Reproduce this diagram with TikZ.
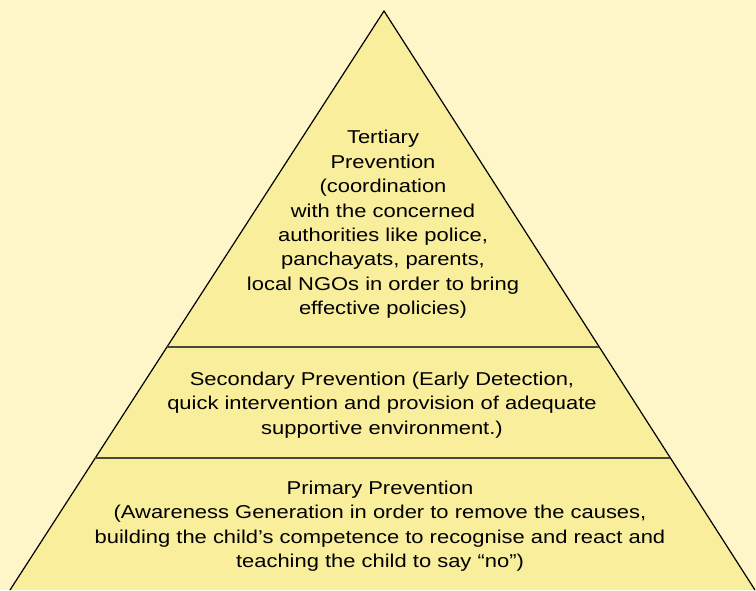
\documentclass[tikz,border=0pt]{standalone}
\usepackage{fontspec}
\setmainfont[FakeStretch=1.18]{Liberation Sans}
\usetikzlibrary{calc}
\definecolor{bg}{HTML}{FEF6C9}
\definecolor{tri}{HTML}{F9EE9C}
\definecolor{divc}{HTML}{4A4838}
\begin{document}
\begin{tikzpicture}[x=1pt,y=-1pt,
  txt/.style={align=center, inner sep=0pt, font=\fontsize{18.6}{24.4}\selectfont},
  edge/.style={line width=1.2pt, black},
  divider/.style={line width=1.5pt, divc}]
\fill[bg] (0,0) rectangle (756,590);
\useasboundingbox (0,0) rectangle (756,590);
\coordinate (A) at (384,11);
\coordinate (L) at (10,590);
\coordinate (R) at (755,590);
\fill[tri] (A) -- (L) -- (R) -- cycle;
\draw[edge] (L) -- (A) -- (R);
\coordinate (d1l) at ($(A)!0.5803!(L)$);
\coordinate (d1r) at ($(A)!0.5803!(R)$);
\coordinate (d2l) at ($(A)!0.772!(L)$);
\coordinate (d2r) at ($(A)!0.772!(R)$);
\draw[divider] (d1l) -- (d1r);
\draw[divider] (d2l) -- (d2r);
\node[txt] (tert) at (383,224.5) {Tertiary\\Prevention\\(coordination\\with the concerned\\authorities like police,\\panchayats, parents,\\local NGOs in order to bring\\effective policies)};
\node[txt] (sec) at (382,405) {Secondary Prevention (Early Detection,\\quick intervention and provision of adequate\\supportive environment.)};
\node[txt] (prim) at (380,526) {Primary Prevention\\(Awareness Generation in order to remove the causes,\\building the child’s competence to recognise and react and\\teaching the child to say “no”)};
\end{tikzpicture}
\end{document}
